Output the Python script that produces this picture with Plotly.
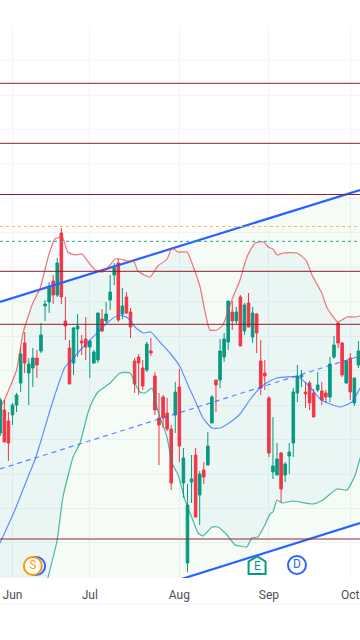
import plotly.graph_objects as go

bar_index = list(range(-3, 86))
opens = [167,190,179,185,195,217,257,227,232,242,249,294,298,319,305,367,279,252,237,271,259,261,253,237,240,281,279,300,325,337,286,303,288,239,243,232,230,249,224,182,203,187,171,185,213,117,37,118,145,105,130,135,177,220,220,243,258,288,279,303,269,297,263,286,239,227,202,128,125,147,125,144,157,207,223,208,217,207,210,209,207,203,243,277,257,217,242,197,235]
highs = [202,200,188,197,207,253,268,242,252,250,277,300,318,325,342,372,303,260,273,286,265,283,260,250,287,291,298,325,337,341,312,308,292,242,246,240,258,262,228,207,205,202,175,218,231,152,116,145,152,129,138,168,205,220,261,267,299,299,293,305,297,307,293,287,260,240,204,183,157,148,138,157,212,235,230,218,219,211,228,218,210,243,264,278,258,240,247,222,259]
lows = [164,158,139,175,188,208,227,195,213,222,247,279,287,296,303,296,260,216,225,243,245,240,222,236,237,268,277,290,315,278,281,286,262,207,205,210,228,244,185,135,172,169,110,167,138,102,28,97,83,75,116,135,177,188,212,238,250,270,276,254,265,273,257,247,205,210,143,121,125,98,118,126,143,198,213,192,190,183,208,195,197,198,241,252,223,216,200,194,232]
closes = [200,158,157,195,205,246,237,236,242,235,265,296,314,305,337,303,274,216,272,274,257,253,259,248,287,269,286,308,332,280,294,287,273,216,237,214,256,247,190,175,182,171,117,208,154,142,95,121,83,126,123,154,203,215,249,261,299,279,288,254,295,273,287,267,212,224,147,134,141,111,136,148,208,224,225,206,197,183,215,200,203,236,255,257,225,239,208,222,249]

upper_x = [-3.07,-2,1,2.6,5,6.8,8.7,10.4,12.2,13.6,15.4,17.1,18.3,20.3,22.2,24,25.2,26.4,28.1,29.9,30.8,33.8,35.7,38,39.2,40.7,42.9,44.1,46.1,48.5,50.2,51.7,53.9,55.9,57.6,59.6,61.8,62.8,64,65,66.5,69.9,72.1,73.6,76,77.3,80,82.2,84.2,85.4]
upper_y = [192,200,230,267,297,312,342,361,363,348,345,346,340,330,328,335,341,341,339,338,329,323,334,341,352,348,348,337,313,270,270,275,300,320,343,357,358,353,351,345,347,347,340,325,307,292,278,283,283,284]
middle_x = [-3.07,0.6,3.8,5.5,7.2,10,12.9,14.6,17.1,21,23.5,26.2,28.4,30.1,32.1,34,36.2,38.7,41.2,43.1,44.8,46.8,49,51,53.9,55.9,58.3,60.8,62.8,65,70.2,73.1,75.6,77.5,80.5,83.4,85.4]
middle_y = [57,90,123,140,162,200,233,240,252,268,278,285,282,273,267,268,258,247,233,215,200,182,172,172,179,186,200,212,218,222,223,213,201,197,193,198,212]
lower_x = [-3.07,8.7,10.9,12.4,14.9,16.6,18.6,19.8,21,24,26.4,28.9,30.1,31.3,32.6,34.3,35,36.2,37.96,39.2,40.7,42.4,44.1,45.6,46.8,49,50.5,52.7,54.7,55.9,57.6,58.8,60.3,62,63.3,64,65,66.2,68.9,73.8,76.3,79.7,82.2,84.2,85.4]
lower_y = [-200,22,58,103,143,157,188,200,208,217,227,227,217,208,207,212,200,183,163,137,125,100,82,67,64,73,73,65,55,54,53,62,63,75,86,88,100,97,99,96,100,111,110,125,142]

channel_x = [-3.07, 85.4]
channel_top = [298, 410]
channel_mid = [131, 244]
channel_bottom = [-36, 77]

resistance_levels = [516.7, 456.7, 405.5, 328.7, 275.7]
support_level = 61
orange_level = 373.5
teal_level = 358.7

tick_vals = [0, 19, 41, 63, 83]
tick_text = ["Jun", "Jul", "Aug", "Sep", "Oct"]
grid_prices = [574,540,505,471,437,402,368,333,299,264,230,195,161,126,92,58]

event_x = [5.8, 5.0, 69.9]
event_y = [34, 34, 35]
event_text = ["", "S", "D"]
event_color = ["#2962FF", "#FF9800", "#2962FF"]
earnings_x = 60.1
earnings_y = 34.5
earnings_color = "#089981"

BLUE = "#2962FF"
XR = [-3.07, 85.39]
YR = [22, 574]
fig = go.Figure()

noline = dict(width=0, color="rgba(0,0,0,0)")
fig.add_trace(go.Scatter(x=channel_x, y=channel_bottom, mode="lines", line=noline, hoverinfo="skip"))
fig.add_trace(go.Scatter(x=channel_x, y=channel_top, mode="lines", line=noline, fill="tonexty",
                         fillcolor="rgba(76,175,80,0.055)", hoverinfo="skip"))
fig.add_trace(go.Scatter(x=lower_x, y=lower_y, mode="lines", line=noline, hoverinfo="skip"))
fig.add_trace(go.Scatter(x=upper_x, y=upper_y, mode="lines", line=noline, fill="tonexty",
                         fillcolor="rgba(33,150,243,0.05)", hoverinfo="skip"))

top = dict(xaxis="x2", yaxis="y2")
fig.add_trace(go.Candlestick(
    x=bar_index, open=opens, high=highs, low=lows, close=closes,
    increasing=dict(line=dict(color="#089981", width=1), fillcolor="#089981"),
    decreasing=dict(line=dict(color="#F23645", width=1), fillcolor="#F23645"),
    whiskerwidth=0, hoverinfo="skip", **top))

fig.add_trace(go.Scatter(x=channel_x, y=channel_bottom, mode="lines",
                         line=dict(color=BLUE, width=2.2), hoverinfo="skip", **top))
fig.add_trace(go.Scatter(x=channel_x, y=channel_top, mode="lines",
                         line=dict(color=BLUE, width=2.2), hoverinfo="skip", **top))
fig.add_trace(go.Scatter(x=channel_x, y=channel_mid, mode="lines",
                         line=dict(color="rgba(41,98,255,0.75)", width=1.2, dash="5px,4px"),
                         hoverinfo="skip", **top))

spl = dict(shape="spline", smoothing=0.5)
fig.add_trace(go.Scatter(x=lower_x, y=lower_y, mode="lines",
                         line=dict(color="rgba(8,153,129,0.7)", width=1.2, **spl), hoverinfo="skip", **top))
fig.add_trace(go.Scatter(x=upper_x, y=upper_y, mode="lines",
                         line=dict(color="rgba(242,54,69,0.7)", width=1.2, **spl), hoverinfo="skip", **top))
fig.add_trace(go.Scatter(x=middle_x, y=middle_y, mode="lines",
                         line=dict(color="rgba(41,98,255,0.7)", width=1.2, **spl), hoverinfo="skip", **top))

for lvl in resistance_levels:
    fig.add_hline(y=lvl, line=dict(color="#8B2026", width=1))
fig.add_hline(y=support_level, line=dict(color="#8E2A2E", width=1))
fig.add_hline(y=orange_level, line=dict(color="#FFB74D", width=1, dash="dot"))
fig.add_hline(y=teal_level, line=dict(color="#26A69A", width=1, dash="dot"))

fig.add_trace(go.Scatter(
    x=event_x, y=event_y, mode="markers+text", text=event_text,
    textposition="middle center",
    textfont=dict(family="Roboto", size=12, color=event_color),
    marker=dict(size=18, symbol="circle", color="white",
                line=dict(color=event_color, width=2)),
    hoverinfo="skip", **top))

house = dict(type="path", layer="above", xref="x", yref="y",
             xsizemode="pixel", ysizemode="pixel",
             xanchor=earnings_x, yanchor=earnings_y,
             path="M -8.5,-8.5 L 8.5,-8.5 L 8.5,4 L 0,9 L -8.5,4 Z",
             fillcolor="white", line=dict(color=earnings_color, width=2))

fig.update_layout(
    width=360, height=640, autosize=False,
    margin=dict(l=0, r=0, t=26, b=62),
    paper_bgcolor="white", plot_bgcolor="white",
    showlegend=False, boxgap=0.1,
    xaxis=dict(range=XR, rangeslider=dict(visible=False),
               tickmode="array", tickvals=tick_vals, ticktext=tick_text,
               ticks="outside", ticklen=6, tickcolor="rgba(0,0,0,0)",
               showline=False, zeroline=False,
               showgrid=True, gridcolor="#F0F3FA", gridwidth=1,
               tickfont=dict(family="Roboto", size=12, color="#4A4E59")),
    yaxis=dict(range=YR, tickmode="array", tickvals=grid_prices,
               showticklabels=False, ticks="", showline=False, zeroline=False,
               showgrid=True, gridcolor="#F3F5FA", gridwidth=1),
    xaxis2=dict(range=XR, overlaying="x", visible=False, rangeslider=dict(visible=False)),
    yaxis2=dict(range=YR, overlaying="y", visible=False),
    shapes=list(fig.layout.shapes) + [
        house,
        dict(type="line", xref="paper", yref="paper", x0=0, x1=1,
             y0=-26 / 552, y1=-26 / 552, line=dict(color="#F0F3FA", width=1))
    ],
    annotations=[dict(x=earnings_x, y=earnings_y, text="E", showarrow=False,
                      font=dict(family="Roboto", size=12, color=earnings_color))],
)

fig.write_html("out.html", config=dict(displayModeBar=False, responsive=False),
               post_script="document.body.style.margin='0';document.documentElement.style.overflow='hidden';")
